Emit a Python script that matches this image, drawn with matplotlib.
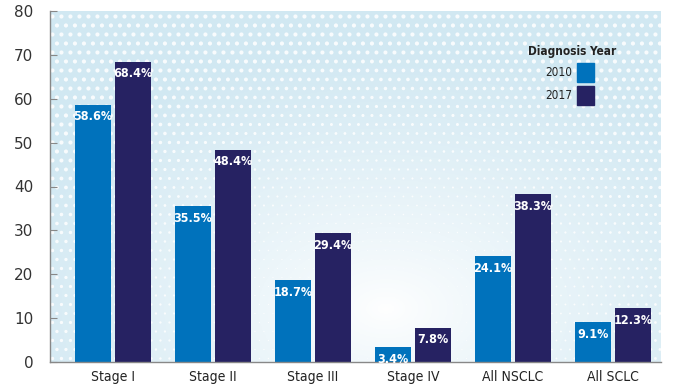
import numpy as np
import matplotlib.pyplot as plt
from matplotlib.patches import Rectangle

categories = ["Stage I", "Stage II", "Stage III", "Stage IV", "All NSCLC", "All SCLC"]
vals_2010 = [58.6, 35.5, 18.7, 3.4, 24.1, 9.1]
vals_2017 = [68.4, 48.4, 29.4, 7.8, 38.3, 12.3]
years = ["2010", "2017"]
colors = ["#0072bc", "#262262"]

cond = dict(family="DejaVu Sans", stretch="condensed")

fig = plt.figure(figsize=(6.9, 3.88), dpi=100)
ax = fig.add_axes([50/690, 26/388, 611/690, 351/388])

# background gradient (light blue at edges, white near lower middle)
def shade(u, v):
    d = np.sqrt(((u - 0.55) / 0.9)**2 + ((v - 0.15) / 1.0)**2)
    return np.clip(d / 0.75, 0, 1)

gx, gy = np.meshgrid(np.linspace(0, 1, 300), np.linspace(0, 1, 200))
c0 = np.array([1.0, 1.0, 1.0])
c1 = np.array([0.82, 0.91, 0.95])
img = c0 + (c1 - c0) * shade(gx, gy)[..., None]**0.8
ax.imshow(img, extent=[0, 1, 0, 1], transform=ax.transAxes, origin="lower",
          aspect="auto", zorder=0)

# halftone dots
dx, dy = np.meshgrid(np.arange(0.004, 1, 9/611), np.arange(0.01, 1, 9/351))
dx[1::2] += 4.5/611
s = shade(dx, dy)**2 * 9
ax.scatter(dx.ravel(), dy.ravel(), s=s.ravel(), color="white", lw=0,
           alpha=0.85, transform=ax.transAxes, zorder=1, clip_on=True)

x = np.arange(len(categories))
w = 0.36
b1 = ax.bar(x - 0.2, vals_2010, w, color=colors[0], zorder=2)
b2 = ax.bar(x + 0.2, vals_2017, w, color=colors[1], zorder=2)

for bars, vals in ((b1, vals_2010), (b2, vals_2017)):
    for rect, v in zip(bars, vals):
        ax.annotate(f"{v}%", (rect.get_x() + rect.get_width()/2, v),
                    xytext=(0, -4), textcoords="offset points",
                    ha="center", va="top", color="white", fontsize=9,
                    fontweight="bold", zorder=3, **cond)

ax.set_xlim(-0.63, 5.48)
ax.set_ylim(0, 80)
ax.set_yticks(range(0, 81, 10))
ax.set_xticks(x)
ax.set_xticklabels(categories, fontsize=10, color="#222222", **cond)
ax.tick_params(axis="y", direction="in", length=5, color="#888888",
               labelsize=11, labelcolor="#333333", pad=12)
ax.tick_params(axis="x", length=0, pad=6)
for s_ in ("top", "right"):
    ax.spines[s_].set_visible(False)
for s_ in ("left", "bottom"):
    ax.spines[s_].set_color("#888888")
    ax.spines[s_].set_linewidth(1)

# legend
ax.text(0.855, 0.885, "Diagnosis Year", transform=ax.transAxes, ha="center",
        va="center", fontsize=8.5, fontweight="bold", color="#222222", **cond)
for i, (yr, c) in enumerate(zip(years, colors)):
    yc = 0.825 - i * 0.066
    ax.add_patch(Rectangle((0.863, yc - 0.027), 0.028, 0.054, color=c,
                           transform=ax.transAxes, zorder=3))
    ax.text(0.855, yc, yr, transform=ax.transAxes, ha="right", va="center",
            fontsize=8.5, color="#222222", **cond)

fig.savefig("out.png", dpi=100)
